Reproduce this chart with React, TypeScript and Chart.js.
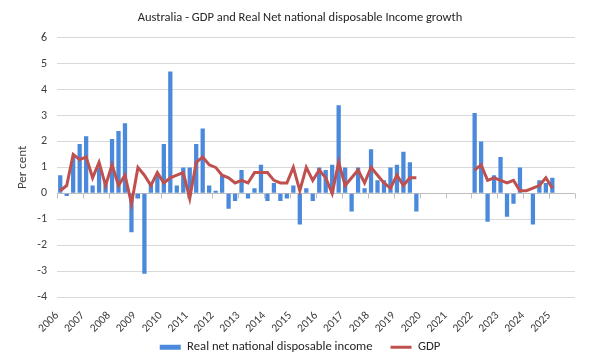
import React, { useEffect, useRef } from 'react';
import { Chart, registerables } from 'chart.js';

Chart.register(...registerables);

const chartTitle = 'Australia - GDP and Real Net national disposable Income growth';
const yAxisTitle = 'Per cent';
const years = ['2006', '2007', '2008', '2009', '2010', '2011', '2012', '2013', '2014', '2015',
  '2016', '2017', '2018', '2019', '2020', '2021', '2022', '2023', '2024', '2025'];
const incomeLabel = 'Real net national disposable income';
const gdpLabel = 'GDP';

// quarterly, 2006 Q1 .. 2025 Q4
const incomeGrowth: (number | null)[] = [
  0.7, -0.1, 1.4, 1.9,
  2.2, 0.3, 1.0, 0.4,
  2.1, 2.4, 2.7, -1.5,
  -0.2, -3.1, 0.4, 0.7,
  1.9, 4.7, 0.3, 1.0,
  1.0, 1.9, 2.5, 0.3,
  0.1, 0.7, -0.6, -0.3,
  0.9, -0.2, 0.2, 1.1,
  -0.3, 0.4, -0.3, -0.2,
  0.3, -1.2, 0.2, -0.3,
  1.0, 0.9, 1.1, 3.4,
  1.0, -0.7, 1.0, 0.2,
  1.7, 0.5, 0.5, 1.0,
  1.1, 1.6, 1.2, -0.7,
  null, null, null, null,
  null, null, null, null,
  3.1, 2.0, -1.1, 0.7,
  1.4, -0.9, -0.4, 1.0,
  0.0, -1.2, 0.5, 0.4,
  0.6, null, null, null,
];

const gdpGrowth: (number | null)[] = [
  0.1, 0.3, 1.5, 1.3,
  1.4, 0.6, 1.2, 0.3,
  1.1, 0.3, 0.7, -0.4,
  1.0, 0.7, 0.3, 0.8,
  0.4, 0.6, 0.7, 0.8,
  -0.2, 1.2, 1.4, 1.1,
  1.0, 0.7, 0.6, 0.4,
  0.5, 0.4, 0.8, 0.8,
  0.8, 0.5, 0.4, 0.4,
  1.0, 0.1, 1.0, 0.5,
  0.9, 0.6, 0.0, 1.2,
  0.3, 0.6, 0.9, 0.4,
  1.0, 0.7, 0.4, 0.2,
  0.7, 0.3, 0.6, 0.6,
  null, null, null, null,
  null, null, null, null,
  0.9, 1.1, 0.5, 0.6,
  0.5, 0.4, 0.5, 0.1,
  0.1, 0.2, 0.3, 0.6,
  0.2, null, null, null,
];

const yMin = -4;
const yMax = 6;
const yStep = 1;
const quartersPerYear = 4;

const FONT = 'Carlito, Lato, "Liberation Sans", sans-serif';

export default function App() {
  const ref = useRef<HTMLCanvasElement>(null);

  useEffect(() => {
    document.body.style.margin = '0';
    const canvas = ref.current;
    if (!canvas) return;
    const n = incomeGrowth.length;
    const barData = incomeGrowth.map((v, i) => ({ x: i + 0.5, y: v }));
    const lineData = gdpGrowth.map((v, i) => ({ x: i + 0.5, y: v }));

    const zeroAxis = {
      id: 'zeroAxis',
      beforeDatasetsDraw(chart: any) {
        const { ctx, scales, chartArea } = chart;
        const x = scales.x;
        const y = scales.y;
        const y0 = Math.round(y.getPixelForValue(0)) + 0.5;
        ctx.save();
        ctx.strokeStyle = '#bfbfbf';
        ctx.lineWidth = 1;
        ctx.beginPath();
        ctx.moveTo(chartArea.left, y0);
        ctx.lineTo(chartArea.right, y0);
        for (let i = 0; i <= n; i += quartersPerYear) {
          const px = Math.round(x.getPixelForValue(i)) + 0.5;
          ctx.moveTo(px, y0);
          ctx.lineTo(px, y0 + 5);
        }
        ctx.stroke();
        ctx.restore();
      },
    };

    const chart = new Chart(canvas, {
      type: 'bar',
      data: {
        datasets: [
          {
            type: 'bar',
            label: incomeLabel,
            data: barData as any,
            backgroundColor: '#4A89DC',
            borderWidth: 0,
            barPercentage: 0.66,
            categoryPercentage: 1,
            pointStyle: 'rect',
            order: 2,
          } as any,
          {
            type: 'line',
            label: gdpLabel,
            data: lineData as any,
            borderColor: '#C0504D',
            backgroundColor: '#C0504D',
            borderWidth: 3,
            pointRadius: 0,
            pointStyle: 'line',
            tension: 0,
            spanGaps: false,
            order: 1,
          } as any,
        ],
      },
      options: {
        responsive: false,
        animation: false,
        layout: { padding: { left: 0, right: 0, top: 0, bottom: -3.5 } },
        plugins: {
          title: {
            display: true,
            text: chartTitle,
            color: '#262626',
            font: { family: FONT, size: 12.5, weight: 'normal' },
            padding: { top: 10, bottom: 12.8 },
          },
          legend: {
            position: 'bottom',
            labels: {
              usePointStyle: true,
              pointStyleWidth: 21,
              boxWidth: 21,
              boxHeight: 5,
              padding: 18,
              color: '#262626',
              font: { family: FONT, size: 12.7 },
              sort: (a: any, b: any) => a.datasetIndex - b.datasetIndex,
            },
          },
          tooltip: { enabled: false },
        },
        scales: {
          x: {
            type: 'linear',
            min: 0,
            max: n,
            offset: false,
            grid: { display: false, offset: false },
            border: { display: false },
            ticks: {
              stepSize: quartersPerYear,
              autoSkip: false,
              maxRotation: 45,
              minRotation: 45,
              padding: 4,
              color: '#404040',
              font: { family: FONT, size: 11.5 },
              callback: (v: any) => {
                const idx = Math.round(Number(v) / quartersPerYear);
                return idx < years.length ? years[idx] : null;
              },
            },
            afterFit: (s: any) => {
              s.height = 25.8;
              s._computeLabelArea = () => undefined;
            },
          },
          y: {
            type: 'linear',
            position: 'left',
            min: yMin,
            max: yMax,
            grid: {
              color: '#d9d9d9',
              drawTicks: false,
            },
            border: { display: false },
            ticks: {
              stepSize: yStep,
              padding: 10,
              color: '#404040',
              font: { family: FONT, size: 12 },
            },
            title: {
              display: true,
              text: yAxisTitle,
              color: '#404040',
              font: { family: FONT, size: 13 },
              padding: { top: 15, bottom: 0 },
            },
            afterFit: (s: any) => { s.width = 57; },
          },
          yRight: {
            type: 'linear',
            position: 'right',
            display: true,
            grid: { display: false },
            border: { display: false },
            ticks: { display: false },
            afterFit: (s: any) => { s.width = 25; },
          },
        },
      } as any,
      plugins: [zeroAxis],
    });

    return () => chart.destroy();
  }, []);

  return (
    <div style={{ width: 600, height: 360 }}>
      <canvas ref={ref} width={600} height={360} />
    </div>
  );
}
